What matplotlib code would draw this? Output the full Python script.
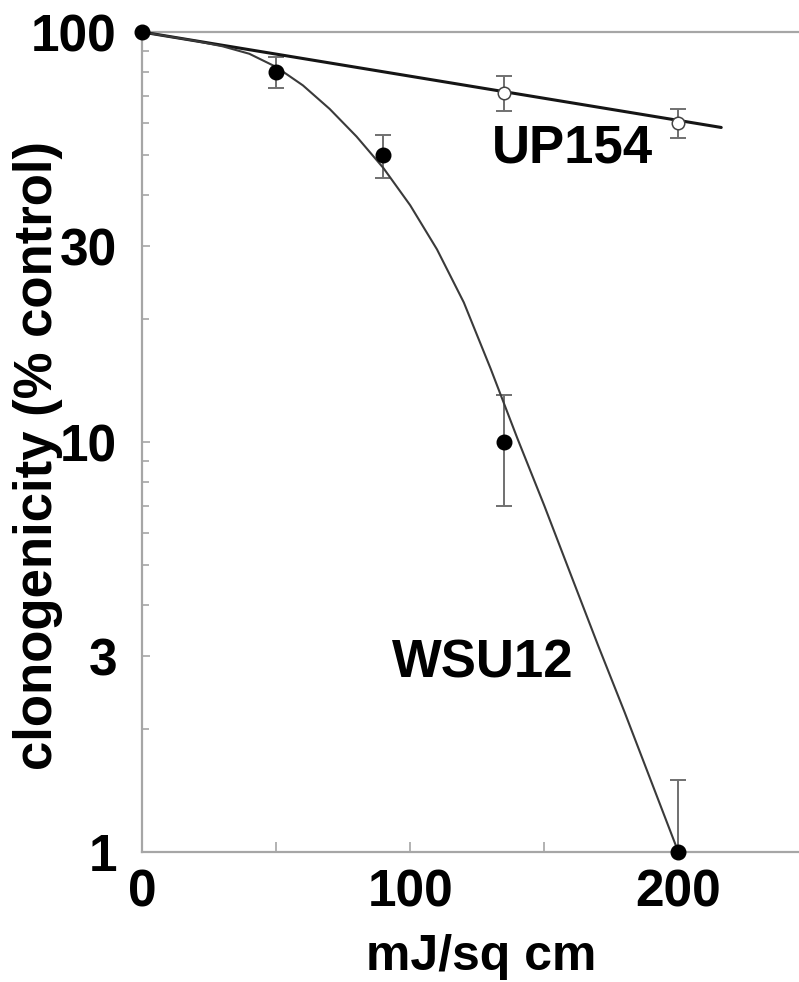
import matplotlib
matplotlib.use("Agg")
import matplotlib.pyplot as plt
from matplotlib.ticker import FixedLocator, NullFormatter, FixedFormatter

plt.rcParams['font.family'] = ['Liberation Sans', 'DejaVu Sans']

# --- data ---
wsu_dose = [0, 50, 90, 135, 200]
wsu_surv = [100, 80, 50, 10, 1]
wsu_err = [0, 7, 6, 3, 0.5]

up_dose = [0, 135, 200]
up_surv = [100, 71, 60]
up_err = [0, 7, 5]

# fitted curves as drawn in the figure
wsu_fit_x = [0, 10, 20, 30, 40, 50, 60, 70, 80, 90, 100, 110, 120, 130,
             140, 150, 160, 170, 180, 190, 200]
wsu_fit_y = [100, 97.5, 95.1, 92.3, 88.5, 82.2, 74.1, 64.9, 55.6, 46.6, 37.8,
             29.5, 21.9, 15.1, 10.2, 7.0, 4.73, 3.20, 2.19, 1.48, 1.0]
up_fit_x = [0, 216]
up_fit_y = [100, 58.5]

yticks = [1, 3, 10, 30, 100]
ytick_labels = ['1', '3', '10', '30', '100']
yminor = [2, 4, 5, 6, 7, 8, 9, 20, 40, 50, 60, 70, 80, 90]
xticks = [0, 100, 200]
xminor = [50, 150]

W, H = 799, 982
fig = plt.figure(figsize=(W / 100, H / 100), dpi=100)
ax = fig.add_axes([142 / W, 130 / H, 1 - 142 / W, 820 / H])
ax.set_yscale('log')
ax.set_ylim(1, 100)
ax.set_xlim(0, 245)

spine_c = '#a6a6a6'
for s in ['left', 'bottom', 'top']:
    ax.spines[s].set_color(spine_c)
    ax.spines[s].set_linewidth(1.6)
ax.spines['right'].set_visible(False)

# curves
ax.plot(up_fit_x, up_fit_y, color='#151515', lw=2.2, zorder=3, clip_on=False,
        solid_capstyle='round')
ax.plot(wsu_fit_x, wsu_fit_y, color='#3a3a3a', lw=1.5, zorder=3, clip_on=False)

# error bars
ax.errorbar(wsu_dose[1:], wsu_surv[1:], yerr=wsu_err[1:], fmt='none', ecolor='#707070',
            elinewidth=1.4, capsize=5.5, capthick=1.4, zorder=2)
ax.errorbar(up_dose[1:], up_surv[1:], yerr=up_err[1:], fmt='none', ecolor='#707070',
            elinewidth=1.4, capsize=5.5, capthick=1.4, zorder=2)

# markers
ax.plot(up_dose[1:], up_surv[1:], 'o', ms=9, mfc='white', mec='#444444', mew=1.1,
        linestyle='none', zorder=4, clip_on=False)
ax.plot(wsu_dose, wsu_surv, 'o', ms=10.5, color='black', linestyle='none',
        zorder=5, clip_on=False)

# ticks
ax.yaxis.set_major_locator(FixedLocator(yticks))
ax.yaxis.set_major_formatter(FixedFormatter(ytick_labels))
ax.yaxis.set_minor_locator(FixedLocator(yminor))
ax.yaxis.set_minor_formatter(NullFormatter())
ax.xaxis.set_major_locator(FixedLocator(xticks))
ax.xaxis.set_minor_locator(FixedLocator(xminor))

ax.tick_params(axis='both', which='both', direction='in', color=spine_c, width=1.2)
ax.tick_params(axis='y', which='major', length=6, pad=18, labelsize=37)
ax.tick_params(axis='y', which='minor', length=5)
ax.tick_params(axis='x', which='major', length=7, pad=12, labelsize=37)
ax.tick_params(axis='x', which='minor', length=7)
ax.tick_params(top=False, right=False)
for lab in ax.get_xticklabels() + ax.get_yticklabels():
    lab.set_fontweight('bold')

fig.text(481 / W, 12 / H, 'mJ/sq cm', fontsize=36, fontweight='bold',
         ha='center', va='baseline')
fig.text(38 / W, 1 - 455 / H, 'clonogenicity (% control)', fontsize=38,
         fontweight='bold', rotation=90, ha='center', va='center')

ax.text(160.4, 52, 'UP154', fontsize=38, fontweight='bold', ha='center', va='center')
ax.text(127.2, 2.89, 'WSU12', fontsize=38, fontweight='bold', ha='center', va='center')

fig.savefig('out.png', dpi=100)
